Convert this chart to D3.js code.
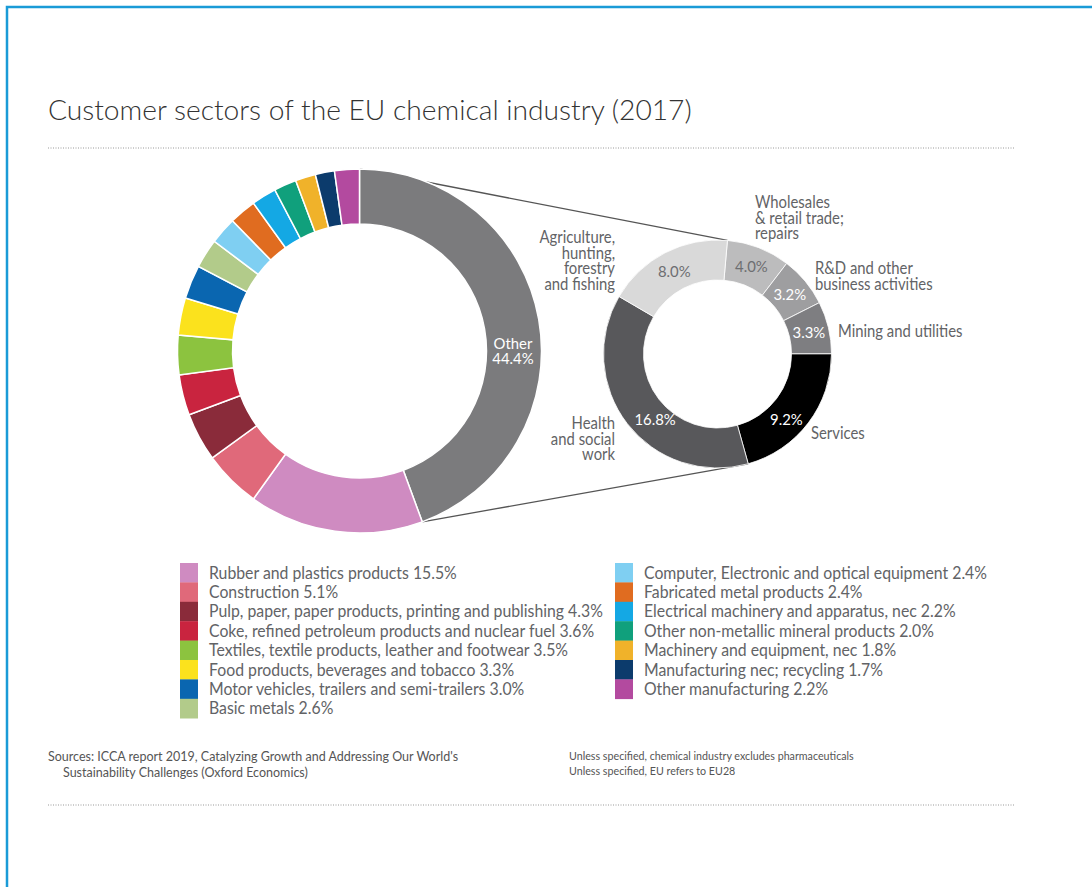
<!DOCTYPE html>
<html>
<head>
<meta charset="utf-8">
<script src="https://cdn.jsdelivr.net/npm/d3@7"></script>
<style>
  body { margin: 0; background: #fff; }
  text { font-family: Lato, "Open Sans", sans-serif; }
</style>
</head>
<body>
<div id="chart"></div>
<script>
// Customer sectors of the EU chemical industry (2017)
var sectors = [
    "Other",
    "Rubber and plastics products",
    "Construction",
    "Pulp, paper, paper products, printing and publishing",
    "Coke, refined petroleum products and nuclear fuel",
    "Textiles, textile products, leather and footwear",
    "Food products, beverages and tobacco",
    "Motor vehicles, trailers and semi-trailers",
    "Basic metals",
    "Computer, Electronic and optical equipment",
    "Fabricated metal products",
    "Electrical machinery and apparatus, nec",
    "Other non-metallic mineral products",
    "Machinery and equipment, nec",
    "Manufacturing nec; recycling",
    "Other manufacturing"
];
var shares = [44.4, 15.5, 5.1, 4.3, 3.6, 3.5, 3.3, 3.0, 2.6, 2.4, 2.4, 2.2, 2.0, 1.8, 1.7, 2.2];
var sectorColors = ["#7b7b7d", "#cf8bc1", "#e0697a", "#8a2b3a", "#c9243f", "#8cc33f", "#fbe21d",
    "#0a66b0", "#b2cb8a", "#7fcff2", "#e06c20", "#14a8e4", "#10a07c", "#f0b22a", "#0c3b6c", "#b34a9f"];

// breakdown of "Other" (clockwise from the top)
var otherSectors = [
    "Wholesales & retail trade; repairs",
    "R&D and other business activities",
    "Mining and utilities",
    "Services",
    "Health and social work",
    "Agriculture, hunting, forestry and fishing"
];
var otherShares = [4.0, 3.2, 3.3, 9.2, 16.8, 8.0];
var otherColors = ["#bcbcbd", "#9e9ea0", "#7e7e81", "#000000", "#58585b", "#d9d9d9"];
var otherLabelColors = ["#6d6e71", "#ffffff", "#ffffff", "#ffffff", "#ffffff", "#6d6e71"];

var svgWidth = 1092;
var svgHeight = 887;
var textGray = "#626366";
var sx = 0.93; // text looks a bit squeezed

var svg = d3.select("#chart")
    .append("svg")
    .attr("width", svgWidth)
    .attr("height", svgHeight);

// frame
svg.append("path")
    .attr("d", "M7,887 L7,7 L1092,7")
    .attr("fill", "none")
    .attr("stroke", "#1a9bd7")
    .attr("stroke-width", 2.5);

function label(g, x, y, str, opts) {
    opts = opts || {};
    return g.append("text")
        .attr("transform", `translate(${x},${y}) scale(${opts.sx || sx},1)`)
        .attr("text-anchor", opts.anchor || "start")
        .attr("font-size", opts.size || 16)
        .attr("font-weight", opts.weight || 400)
        .attr("fill", opts.color || textGray)
        .text(str);
}

// title + dotted rules
label(svg, 48, 120, "Customer sectors of the EU chemical industry (2017)", {size: 28.2, weight: 300, color: "#333", sx: 1});
[148, 805].forEach(function(y) {
    svg.append("line")
        .attr("x1", 48).attr("x2", 1015)
        .attr("y1", y).attr("y2", y)
        .attr("stroke", "#999")
        .attr("stroke-width", 1)
        .attr("stroke-dasharray", "1,1.5");
});

// big donut
var bigC = [359.5, 351], bigOuter = 182, bigInner = 127;
var smallC = [717.5, 354], smallOuter = 114, smallInner = 74;

var pie = d3.pie().sort(null).value(d => d);
var bigArcs = pie(shares);
var arcBig = d3.arc().innerRadius(bigInner).outerRadius(bigOuter);

var smallStart = 5 * Math.PI / 180;
var smallPie = d3.pie().sort(null).value(d => d)
    .startAngle(smallStart).endAngle(smallStart + 2 * Math.PI);
var smallArcs = smallPie(otherShares);
var arcSmall = d3.arc().innerRadius(smallInner).outerRadius(smallOuter);

// connector lines from the "Other" segment to the breakdown ring
function pt(c, r, a) { return [c[0] + r * Math.sin(a), c[1] - r * Math.cos(a)]; }
var links = [
    [pt(bigC, bigOuter, bigArcs[0].startAngle), pt(smallC, smallOuter, smallArcs[5].endAngle - 2 * Math.PI)],
    [pt(bigC, bigOuter, bigArcs[0].endAngle), pt(smallC, smallOuter, smallArcs[3].endAngle)]
];
svg.selectAll(".link")
    .data(links)
    .enter()
    .append("line")
    .attr("class", "link")
    .attr("x1", d => d[0][0]).attr("y1", d => d[0][1])
    .attr("x2", d => d[1][0]).attr("y2", d => d[1][1])
    .attr("stroke", "#555")
    .attr("stroke-width", 1.3);

var bigG = svg.append("g").attr("transform", `translate(${bigC[0]},${bigC[1]})`);
bigG.selectAll("path")
    .data(bigArcs)
    .enter()
    .append("path")
    .attr("d", arcBig)
    .attr("fill", (d, i) => sectorColors[i])
    .attr("stroke", "#fff")
    .attr("stroke-width", 1.5);

label(svg, 513, 349, "Other", {anchor: "middle", size: 16, color: "#fff"});
label(svg, 513, 364, shares[0].toFixed(1) + "%", {anchor: "middle", size: 16, color: "#fff"});

var smallG = svg.append("g").attr("transform", `translate(${smallC[0]},${smallC[1]})`);
smallG.selectAll("path")
    .data(smallArcs)
    .enter()
    .append("path")
    .attr("d", arcSmall)
    .attr("fill", (d, i) => otherColors[i])
    .attr("stroke", "#fff")
    .attr("stroke-width", 0.8);

// percentage labels sit a little off the centroid in the lower half
var midArc = d3.arc().innerRadius(94).outerRadius(94);
smallArcs.forEach(function(d, i) {
    var c = midArc.centroid(d);
    var dx = 0, dy = 6;
    if (c[1] > 30) { dx = c[0] < 0 ? 12 : -6; dy = 14; }
    label(svg, smallC[0] + c[0] + dx, smallC[1] + c[1] + dy, otherShares[i].toFixed(1) + "%",
        {anchor: "middle", size: 16, color: otherLabelColors[i]});
});

// outside labels of the breakdown ring
var outLabels = [
    {lines: ["Wholesales", "& retail trade;", "repairs"], x: 755, y: 208, anchor: "start"},
    {lines: ["R&D and other", "business activities"], x: 815, y: 274, anchor: "start"},
    {lines: ["Mining and utilities"], x: 838, y: 337, anchor: "start"},
    {lines: ["Services"], x: 811, y: 439, anchor: "start"},
    {lines: ["Health", "and social", "work"], x: 615, y: 429, anchor: "end"},
    {lines: ["Agriculture,", "hunting,", "forestry", "and fishing"], x: 615, y: 243, anchor: "end"}
];
outLabels.forEach(function(o) {
    o.lines.forEach(function(s, j) {
        label(svg, o.x, o.y + j * 15.6, s, {anchor: o.anchor, size: 16.5, sx: 0.9});
    });
});

// legend (two columns)
var rowH = 19.4;
var legendItems = sectors.slice(1).map((s, i) => ({name: s, value: shares[i + 1], color: sectorColors[i + 1]}));
var cols = [legendItems.slice(0, 8), legendItems.slice(8)];
var colX = [180, 615];
cols.forEach(function(items, c) {
    var g = svg.append("g").attr("transform", `translate(${colX[c]},563)`);
    g.selectAll("rect")
        .data(items)
        .enter()
        .append("rect")
        .attr("x", 0)
        .attr("y", (d, i) => i * rowH)
        .attr("width", 18)
        .attr("height", rowH + 0.3)
        .attr("fill", d => d.color);
    items.forEach(function(d, i) {
        label(g, 29, i * rowH + 15.5, d.name + " " + d.value.toFixed(1) + "%", {size: 17});
    });
});

// sources
label(svg, 48, 761, "Sources: ICCA report 2019, Catalyzing Growth and Addressing Our World's", {size: 12.5, color: "#555", sx: 1});
label(svg, 63, 777, "Sustainability Challenges (Oxford Economics)", {size: 12.5, color: "#555", sx: 1});
label(svg, 569, 760, "Unless specified, chemical industry excludes pharmaceuticals", {size: 10.5, color: "#555", sx: 1.02});
label(svg, 569, 775, "Unless specified, EU refers to EU28", {size: 10.5, color: "#555", sx: 1.02});
</script>
</body>
</html>
